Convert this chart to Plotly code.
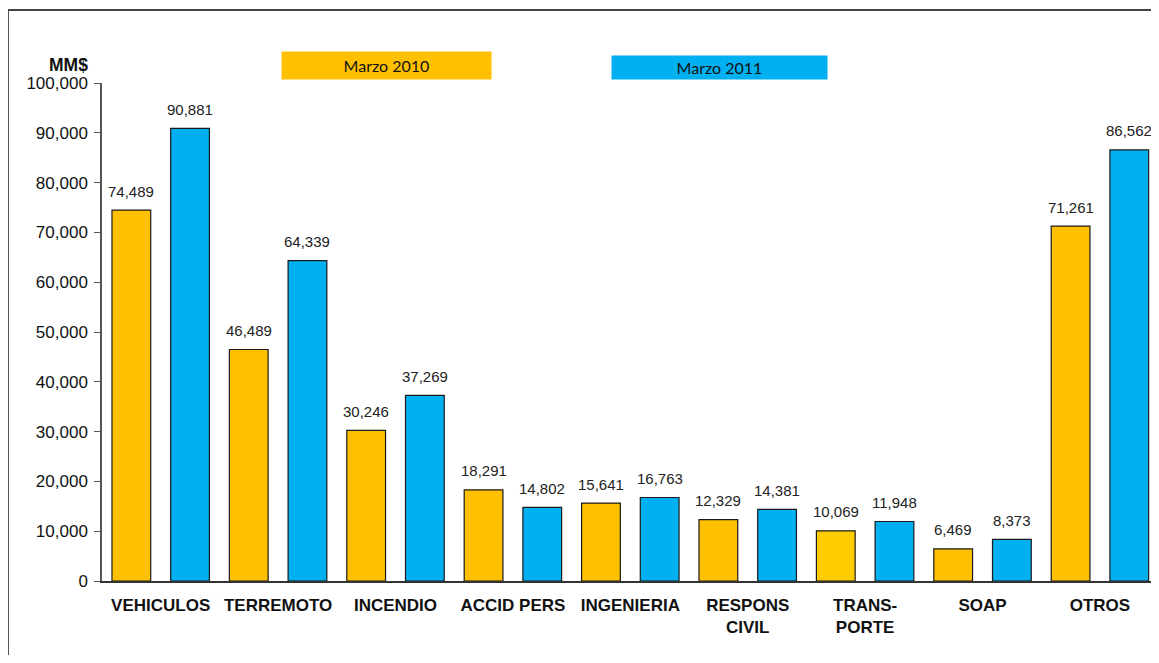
import plotly.graph_objects as go

categories = ["VEHICULOS", "TERREMOTO", "INCENDIO", "ACCID PERS", "INGENIERIA",
              "RESPONS<br>CIVIL", "TRANS-<br>PORTE", "SOAP", "OTROS"]
marzo_2010 = [74489, 46489, 30246, 18291, 15641, 12329, 10069, 6469, 71261]
marzo_2011 = [90881, 64339, 37269, 14802, 16763, 14381, 11948, 8373, 86562]
series_names = ["Marzo 2010", "Marzo 2011"]

ORANGE = "#FFC000"
BLUE = "#00B0F0"
orange_colors = [ORANGE] * len(categories)
orange_colors[6] = "#FFCC00"

xpos = list(range(len(categories)))
OFF = 8  # page body margin
RIGHT = 1151  # visible right edge

fig = go.Figure()
fig.add_trace(go.Bar(x=xpos, y=marzo_2010, name=series_names[0],
                     marker=dict(color=orange_colors, line=dict(color="#1a1a1a", width=1.2))))
fig.add_trace(go.Bar(x=xpos, y=marzo_2011, name=series_names[1],
                     marker=dict(color=BLUE, line=dict(color="#1a1a1a", width=1.2))))

LBL_FONT = dict(family="Liberation Sans, Arial", size=15, color="#222")
annotations = []
for i, v in enumerate(marzo_2010):
    annotations.append(dict(x=i - 0.25, y=v, xref="x", yref="y", text=f"{v:,}",
                            showarrow=False, yanchor="middle", yshift=19, font=LBL_FONT))
for i, v in enumerate(marzo_2011):
    annotations.append(dict(x=i + 0.25, y=v, xref="x", yref="y", text=f"{v:,}",
                            showarrow=False, yanchor="middle", yshift=19, font=LBL_FONT))

# pixel helpers (screen coords)
W, H = RIGHT - 102, 498
def px_x(p):
    return (p - 102) / W
def px_y(p):
    return (581 - p) / H

annotations.append(dict(x=px_x(386.5), y=px_y(65.5), xref="paper", yref="paper",
                        text=series_names[0], showarrow=False, width=209, height=27,
                        bgcolor=ORANGE, borderpad=0, xanchor="center", yanchor="middle",
                        font=dict(family="Lato, Open Sans", size=16, color="#111")))
annotations.append(dict(x=px_x(719.5), y=px_y(67.5), xref="paper", yref="paper",
                        text=series_names[1], showarrow=False, width=215, height=23,
                        bgcolor=BLUE, borderpad=0, xanchor="center", yanchor="middle",
                        font=dict(family="Lato, Open Sans", size=16, color="#111")))
annotations.append(dict(x=px_x(90), y=px_y(65), xref="paper", yref="paper",
                        text="<b>MM$</b>", showarrow=False, xanchor="right", yanchor="middle",
                        font=dict(family="Liberation Sans, Arial", size=17.5, color="#111")))

shapes = [dict(type="rect", xref="paper", yref="paper",
               x0=px_x(8), y0=-0.3, x1=1.2, y1=px_y(10),
               line=dict(color="#444", width=1.8), fillcolor="rgba(0,0,0,0)")]

fig.update_layout(
    width=RIGHT - OFF, height=663 - 2 * OFF,
    margin=dict(l=102 - OFF, r=0, t=83 - OFF, b=663 - 2 * OFF - (581 - OFF)),
    paper_bgcolor="white", plot_bgcolor="white",
    barmode="group", bargap=0.0, bargroupgap=0.34,
    showlegend=False,
    annotations=annotations, shapes=shapes,
    font=dict(family="Liberation Sans, Arial", color="#111"),
)
fig.update_xaxes(range=[-0.5, 8.435], tickmode="array", tickvals=xpos,
                 ticktext=[f"<b>{c}</b>" for c in categories],
                 showline=True, linecolor="#333", linewidth=1.5, ticks="",
                 showgrid=False, zeroline=False, ticklabelstandoff=8,
                 tickfont=dict(family="Liberation Sans, Arial", size=17, color="#111"))
fig.update_yaxes(range=[0, 100000], dtick=10000, tickformat=",",
                 showline=True, linecolor="#555", linewidth=1.5, ticks="outside",
                 ticklen=6, tickcolor="#555", showgrid=False, zeroline=False,
                 ticklabelstandoff=3,
                 tickfont=dict(family="Liberation Sans, Arial", size=17, color="#111"))

fig.write_html("out.html")
